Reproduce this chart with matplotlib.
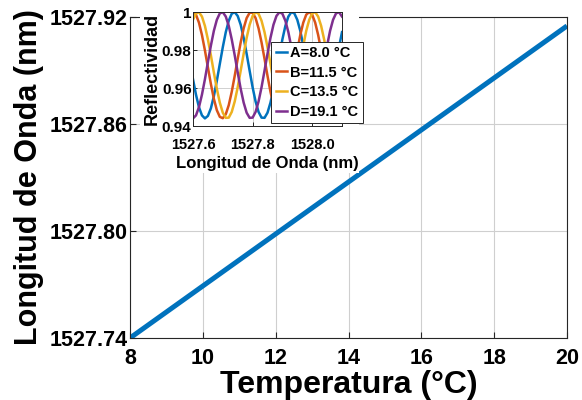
import matplotlib
matplotlib.use("Agg")
import matplotlib.pyplot as plt
from matplotlib.patches import Rectangle
from matplotlib.ticker import FormatStrFormatter

plt.rcParams.update({
    "font.family": ["Liberation Sans", "DejaVu Sans"],
    "font.weight": "bold",
    "axes.labelweight": "bold",
    "xtick.direction": "in", "ytick.direction": "in",
})

# ---- main plot data: peak wavelength vs temperature ----
temp_c = [8, 20]
wavelength_nm = [1527.74, 1527.915]

# ---- inset data: reflectivity spectra (wavelength grid 1527.60 .. 1528.10, step 0.01) ----
lam_inset = [round(1527.60 + 0.01 * k, 2) for k in range(51)]
refl_A = [0.9646, 0.9565, 0.9499, 0.9456, 0.9440, 0.9453, 0.9493, 0.9557, 0.9638, 0.9727,
          0.9815, 0.9894, 0.9954, 0.9991, 0.9999, 0.9979, 0.9933, 0.9864, 0.9780, 0.9691,
          0.9604, 0.9529, 0.9474, 0.9444, 0.9443, 0.9470, 0.9523, 0.9596, 0.9682, 0.9772,
          0.9856, 0.9927, 0.9976, 0.9999, 0.9993, 0.9959, 0.9901, 0.9823, 0.9736, 0.9646,
          0.9565, 0.9499, 0.9456, 0.9440, 0.9453, 0.9493, 0.9557, 0.9638, 0.9727, 0.9815,
          0.9894]
refl_B = [1.0000, 0.9986, 0.9944, 0.9879, 0.9798, 0.9709, 0.9621, 0.9543, 0.9483, 0.9448,
          0.9441, 0.9462, 0.9510, 0.9580, 0.9664, 0.9754, 0.9840, 0.9914, 0.9968, 0.9996,
          0.9996, 0.9968, 0.9914, 0.9840, 0.9754, 0.9664, 0.9580, 0.9510, 0.9462, 0.9441,
          0.9448, 0.9483, 0.9543, 0.9621, 0.9709, 0.9798, 0.9879, 0.9944, 0.9986, 1.0000,
          0.9986, 0.9944, 0.9879, 0.9798, 0.9709, 0.9621, 0.9543, 0.9483, 0.9448, 0.9441,
          0.9462]
refl_C = [0.9959, 0.9993, 0.9999, 0.9976, 0.9927, 0.9856, 0.9772, 0.9682, 0.9596, 0.9523,
          0.9470, 0.9443, 0.9444, 0.9474, 0.9529, 0.9604, 0.9691, 0.9780, 0.9864, 0.9933,
          0.9979, 0.9999, 0.9991, 0.9954, 0.9894, 0.9815, 0.9727, 0.9638, 0.9557, 0.9493,
          0.9453, 0.9440, 0.9456, 0.9499, 0.9565, 0.9646, 0.9736, 0.9823, 0.9901, 0.9959,
          0.9993, 0.9999, 0.9976, 0.9927, 0.9856, 0.9772, 0.9682, 0.9596, 0.9523, 0.9470,
          0.9443]
refl_D = [0.9440, 0.9456, 0.9499, 0.9565, 0.9646, 0.9736, 0.9823, 0.9901, 0.9959, 0.9993,
          0.9999, 0.9976, 0.9927, 0.9856, 0.9772, 0.9682, 0.9596, 0.9523, 0.9470, 0.9443,
          0.9444, 0.9474, 0.9529, 0.9604, 0.9691, 0.9780, 0.9864, 0.9933, 0.9979, 0.9999,
          0.9991, 0.9954, 0.9894, 0.9815, 0.9727, 0.9638, 0.9557, 0.9493, 0.9453, 0.9440,
          0.9456, 0.9499, 0.9565, 0.9646, 0.9736, 0.9823, 0.9901, 0.9959, 0.9993, 0.9999,
          0.9976]
labels_inset = ["A=8.0 °C", "B=11.5 °C", "C=13.5 °C", "D=19.1 °C"]
colors_inset = ["#0072BD", "#D95319", "#EDB120", "#7E2F8E"]

W, H = 582, 400
fig = plt.figure(figsize=(W / 100, H / 100), dpi=100)

# main axes (pixel box: x 130..567, y 17..338)
ax = fig.add_axes([130 / W, 1 - 338 / H, 437 / W, (338 - 17) / H])
ax.plot(temp_c, wavelength_nm, color="#0072BD", lw=3.6, solid_capstyle="butt")
ax.set_xlim(8, 20)
ax.set_ylim(1527.74, 1527.92)
ax.set_xticks([8, 10, 12, 14, 16, 18, 20])
ax.set_yticks([1527.74, 1527.80, 1527.86, 1527.92])
ax.yaxis.set_major_formatter(FormatStrFormatter("%.2f"))
ax.grid(True, color="#CFCFCF", lw=0.8)
ax.tick_params(labelsize=15.5, length=4, width=0.8, color="#262626")
ax.tick_params(axis="x", pad=7)
ax.tick_params(axis="y", pad=1.5)
for s in ax.spines.values():
    s.set_color("#262626"); s.set_linewidth(0.8)
ax.set_xlabel("Temperatura (°C)", fontsize=23, labelpad=1)
ax.set_ylabel("Longitud de Onda (nm)", fontsize=22, labelpad=4)

# white backdrop for the inset (covers main grid)
fig.patches.append(Rectangle((140 / W, 1 - 173 / H), (359 - 140) / W, 173 / H,
                             transform=fig.transFigure, facecolor="white",
                             edgecolor="none", zorder=1))

# inset axes (pixel box: x 193..342, y 12..126)
axi = fig.add_axes([193 / W, 1 - 126 / H, (342 - 193) / W, (126 - 12) / H], zorder=2)
for y, c, lab in zip([refl_A, refl_B, refl_C, refl_D], colors_inset, labels_inset):
    axi.plot(lam_inset, y, color=c, lw=1.8, label=lab)
axi.set_xlim(1527.6, 1528.1)
axi.set_ylim(0.94, 1.0)
axi.set_xticks([1527.6, 1527.8, 1528.0])
axi.set_xticklabels(["1527.6", "1527.8", "1528.0"])
axi.set_yticks([0.94, 0.96, 0.98, 1.0])
axi.set_yticklabels(["0.94", "0.96", "0.98", "1"])
axi.grid(True, color="#D0D0D0", lw=0.7)
axi.tick_params(length=3, width=0.7, color="#262626")
axi.tick_params(axis="x", labelsize=10.5, pad=8.5)
axi.tick_params(axis="y", labelsize=11, pad=1)
for s in axi.spines.values():
    s.set_color("#262626"); s.set_linewidth(0.7)
axi.set_xlabel("Longitud de Onda (nm)", fontsize=12, labelpad=3)
axi.set_ylabel("Reflectividad", fontsize=13, labelpad=1)
leg = axi.legend(loc="lower right", bbox_to_anchor=(363 / W, 1 - 123 / H),
                 bbox_transform=fig.transFigure, fontsize=10.5, handlelength=0.8,
                 handletextpad=0.2, borderpad=0.3, labelspacing=0.38,
                 borderaxespad=0, fancybox=False, framealpha=1)
leg.get_frame().set_edgecolor("#262626")
leg.get_frame().set_linewidth(0.7)

fig.savefig("out.png", dpi=100)
